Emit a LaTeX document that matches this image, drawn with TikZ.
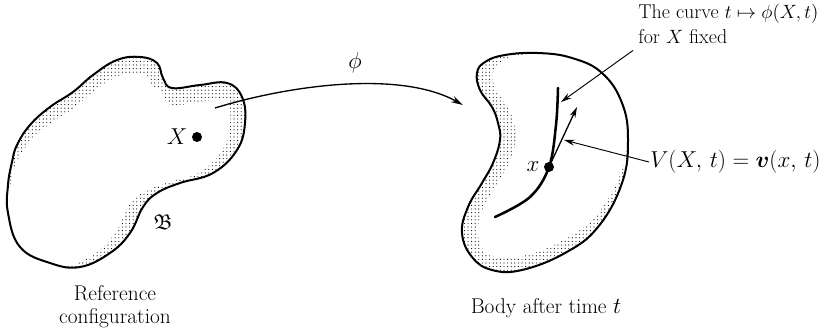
\documentclass[tikz,border=0pt]{standalone}
\usepackage{mathtools}
\usepackage{amsfonts}
\usepackage{amssymb}
\usepackage{tikz}
\usetikzlibrary{calc,arrows.meta,patterns.meta}

\tikzset{
  refblob/.style={insert path={plot[smooth cycle,tension=0.7] coordinates {(140,57) (157,63) (163,78) (172,88) (200,85) (227,83) (242,97) (245,123) (237,150) (213,173) (180,183) (157,193) (143,207) (130,233) (110,253) (80,267) (50,263) (20,247) (8,213) (8,185) (12,162) (17,145) (30,125) (50,107) (73,92) (93,75) (117,60)}}},
  bodyblob/.style={insert path={plot[smooth cycle,tension=0.7] coordinates {(485,62) (505,55) (538,53) (572,58) (602,73) (622,103) (628,140) (622,183) (598,227) (565,253) (522,270) (492,270) (472,257) (462,233) (468,207) (482,183) (493,163) (500,140) (498,123) (492,107) (480,90) (477,73)}}},
  stipple/.style={pattern={Dots[radius=0.42pt,distance=2.7pt]}},
  blobline/.style={line width=1.5pt},
  leader/.style={line width=0.7pt,-{Stealth[length=8pt,width=4.5pt]}},
  dot/.style={circle,fill,inner sep=0pt,minimum size=7.5pt},
}

\begin{document}
\begin{tikzpicture}[x=0.75pt,y=0.75pt,yscale=-1,xscale=1,font=\fontsize{16}{17}\selectfont]
\useasboundingbox (0,0) rectangle (836,335);

% reference configuration, stippled rim on top and right
\begin{scope}
\clip[refblob];
\fill[stipple,refblob];
\begin{scope}
\clip[shift={(0,17)},refblob];
\fill[white,shift={(-15,0)},refblob];
\end{scope}
\end{scope}
\draw[blobline,refblob];

% body after time t, stippled rim on left and bottom
\begin{scope}
\clip[bodyblob];
\fill[stipple,bodyblob];
\begin{scope}
\clip[shift={(0,-14)},bodyblob];
\fill[white,shift={(16,0)},bodyblob];
\end{scope}
\end{scope}
\draw[blobline,bodyblob];

% the map phi
\coordinate (mapstart) at (215,108);
\coordinate (mapend) at (463,105);
\draw[line width=1pt,-{Stealth[length=9pt,width=5pt]}] (mapstart) .. controls (290,85) and (400,70) .. (mapend);
\draw (355,63) node [inner sep=0.75pt] (philbl) {$\phi$};

% material point X
\node[dot] (Xdot) at (197,137) {};
\draw (Xdot.west) node [anchor=east,inner sep=3pt] (Xlbl) {$X$};
\draw (163,222) node [inner sep=0.75pt] (Blbl) {$\mathfrak{B}$};

% trajectory through x
\draw[line width=1.9pt,line cap=round] plot[smooth,tension=0.6] coordinates {(558,88) (556,125) (549,167) (530,197) (495,217)};
\node[dot] (xdot) at (549,167) {};
\draw (xdot.west) node [anchor=east,inner sep=3pt] (xlbl) {$x$};
\coordinate (vtip) at (577,107);
\draw[leader,line width=1pt] (xdot.center) -- (vtip);

% labels on the right
\coordinate (curvetip) at (561,102);
\coordinate (velotip) at (564,140);
\draw (637,3) node [anchor=north west,align=left,inner sep=0.75pt,font=\fontsize{15}{19}\selectfont] (curvelbl) {The curve $t\mapsto\phi(X, t)$\\for $X$ fixed};
\draw (649,162) node [anchor=west,inner sep=0.75pt] (velolbl) {$V(X,\,t)=\boldsymbol{v}(x,\,t)$};
\draw[leader] ($(curvelbl.south west)+(-4,5)$) -- (curvetip);
\draw[leader] (velolbl.west) -- (velotip);

% captions
\draw (115,307) node [align=center,inner sep=0.75pt] (reflbl) {Reference\\configuration};
\draw (546,308) node [inner sep=0.75pt] (bodylbl) {Body after time $t$};

\end{tikzpicture}
\end{document}
